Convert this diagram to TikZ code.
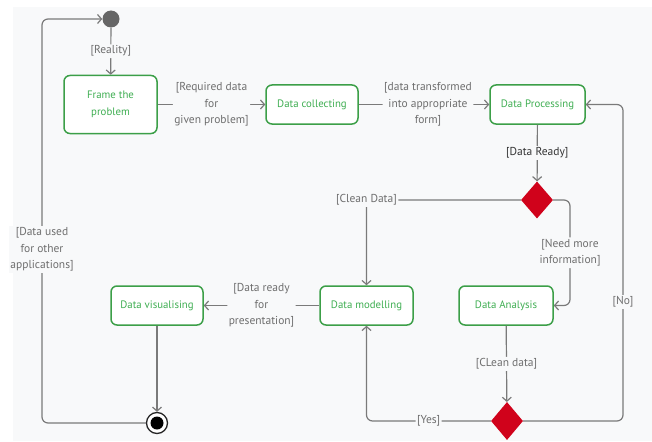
\documentclass[tikz,border=0pt]{standalone}
\usepackage{fontspec}
\setmainfont{PT Sans}
\usetikzlibrary{arrows.meta,shapes.geometric}
\definecolor{bgc}{HTML}{F8F9FA}
\definecolor{grn}{HTML}{3C9F48}
\definecolor{grntxt}{HTML}{3FAE52}
\definecolor{ln}{HTML}{7A7A7A}
\definecolor{lbl}{HTML}{6E6E6E}
\definecolor{dia}{HTML}{D0021B}
\begin{document}
\begin{tikzpicture}[x=1pt,y=-1pt,
 act/.style={draw=grn, line width=1.5pt, rounded corners=6pt, fill=white, text=grntxt,
   font=\fontsize{10.8}{17}\selectfont, align=center, inner sep=0pt, minimum height=39pt},
 dec/.style={diamond, fill=dia, minimum width=32pt, minimum height=37pt, inner sep=0pt},
 lab/.style={fill=bgc, text=lbl, font=\fontsize{11.5}{16.7}\selectfont, align=center, inner sep=1.5pt},
 con/.style={draw=ln, line width=1.2pt, rounded corners=6pt, -{Straight Barb[length=4pt,width=9pt]}},
]
\useasboundingbox (0,0) rectangle (652,441);
\fill[white] (0,0) rectangle (652,441);
\fill[bgc] (13,7) rectangle (652,441);

% nodes
\node[circle, fill=black!60, minimum size=17pt, inner sep=0pt] (start) at (111,19) {};
\node[act, minimum width=93pt, minimum height=58pt] (frame) at (110.5,104.5) {Frame the\\problem};
\node[act, minimum width=92pt] (collect) at (312,104.5) {Data collecting};
\node[act, minimum width=95pt] (proc) at (537.5,104.5) {Data Processing};
\node[dec] (d1) at (537,200) {};
\node[act, minimum width=93pt] (model) at (366.5,305.5) {Data modelling};
\node[act, minimum width=94pt] (anal) at (506,305.5) {Data Analysis};
\node[dec, minimum height=38pt] (d2) at (507,421) {};
\node[act, minimum width=92pt] (vis) at (157,305.5) {Data visualising};
\node[circle, draw=black!85, line width=1.3pt, fill=white, minimum size=21pt, inner sep=0pt] (endc) at (157,423) {};
\fill[black] (endc.center) circle (6.5pt);

\coordinate (lb) at (42,423);
\coordinate (lt) at (42,19);
\coordinate (cna) at (570,305.5);
\coordinate (cno) at (623,104.5);

% connectors
\draw[con] (start) -- node[lab]{[Reality]} (frame);
\draw[con] (frame) -- node[lab]{[Required data\\for\\given problem]} (collect);
\draw[con] (collect) -- node[lab, xshift=4pt]{[data transformed\\into appropriate\\form]} (proc);
\draw[con] (proc) -- node[lab, text=black!80]{[Data Ready]} (d1);
\draw[con] (d1.west) -| node[lab, pos=0.5]{[Clean Data]} (model.north);
\draw[con] (d1.east) -| node[lab, pos=0.75]{[Need more\\information]} (cna) -- (anal.east);
\draw[con] (d2.east) -| (cno) -- (proc.east);
\node[lab] (nolab) at (623,302) {[No]};
\draw[con] (anal) -- node[lab]{[CLean data]} (d2);
\draw[con] (d2.west) -| node[lab, pos=0.25]{[Yes]} (model.south);
\draw[con] (model) -- node[lab]{[Data ready\\for\\presentation]} (vis);
\draw[con] (vis.south) -- (endc.north);
\draw[con] (endc.west) -- (lb) -- (lt) -- (start.west);
\node[lab] (uselab) at (42,249.5) {[Data used\\for other\\applications]};
\end{tikzpicture}
\end{document}
